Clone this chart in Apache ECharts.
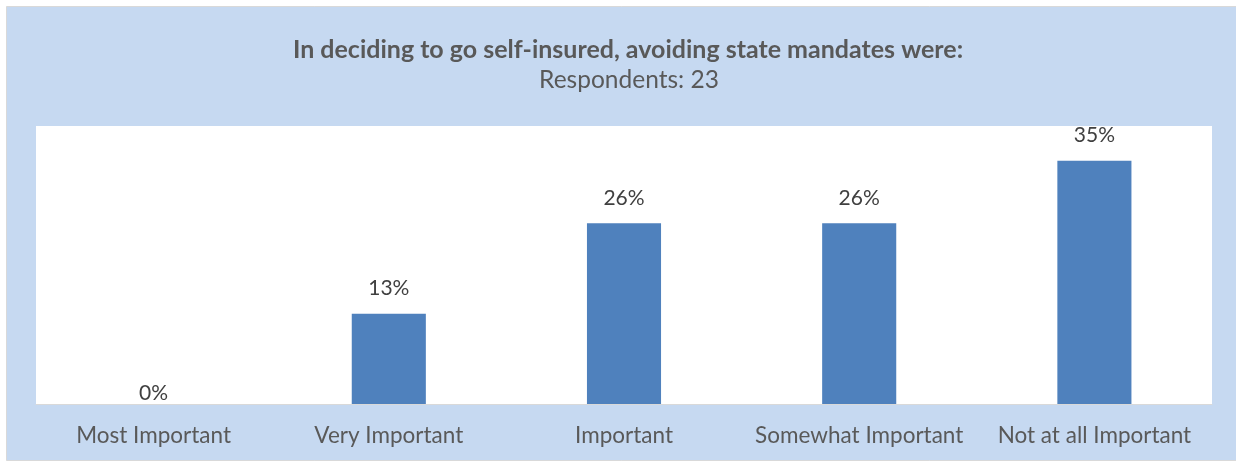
<!DOCTYPE html>
<html>
<head>
<meta charset="utf-8">
<script src="https://cdn.jsdelivr.net/npm/echarts@6/dist/echarts.min.js"></script>
<style>
  html, body { margin: 0; padding: 0; background: #ffffff; }
  #chart { width: 1236px; height: 462px; }
</style>
</head>
<body>
<div id="chart"></div>
<script>
// Survey answers: share of respondents per importance level (percent)
const categories = ['Most Important', 'Very Important', 'Important', 'Somewhat Important', 'Not at all Important'];
const shares = [0, 13, 26, 26, 35];
const titleText = 'In deciding to go self-insured, avoiding state mandates were:';
const subtitleText = 'Respondents: 23';

const FONT = 'Lato, "Noto Sans", sans-serif';
const TEXT_GREY = '#595959';

const chart = echarts.init(document.getElementById('chart'), null, { renderer: 'canvas' });

// Zero-height bars keep their label tucked just above the axis line
const barData = shares.map(v => ({
  value: v,
  label: { distance: v === 0 ? 0 : 15 }
}));

chart.setOption({
  backgroundColor: '#ffffff',
  animation: false,
  graphic: [{
    type: 'rect',
    z: -10,
    silent: true,
    shape: { x: 6.5, y: 6.5, width: 1240, height: 454 },
    style: { fill: '#c6d9f1', stroke: '#d9d9d9', lineWidth: 1 }
  }],
  title: [{
    text: titleText,
    left: 623,
    top: 32,
    textAlign: 'center',
    textStyle: { fontFamily: FONT, fontSize: 25, fontWeight: 'bold', color: TEXT_GREY }
  }, {
    text: subtitleText,
    left: 624,
    top: 63,
    textAlign: 'center',
    textStyle: { fontFamily: FONT, fontSize: 24.5, fontWeight: 'normal', color: TEXT_GREY }
  }],
  grid: {
    show: true,
    left: 36,
    right: 24,
    top: 126,
    bottom: 58,
    backgroundColor: '#ffffff',
    borderWidth: 0
  },
  xAxis: {
    type: 'category',
    data: categories,
    axisLine: { show: true, lineStyle: { color: '#d9d9d9', width: 1 } },
    axisTick: { show: false },
    axisLabel: { margin: 20, fontFamily: FONT, fontSize: 22.5, color: TEXT_GREY, interval: 0 }
  },
  yAxis: {
    type: 'value',
    min: 0,
    max: 40,
    show: false,
    splitLine: { show: false }
  },
  series: [{
    type: 'bar',
    data: barData,
    barWidth: '31.5%',
    itemStyle: { color: '#4f81bd' },
    label: {
      show: true,
      position: 'top',
      formatter: p => p.value + '%',
      fontFamily: FONT,
      fontSize: 21,
      color: '#404040'
    }
  }]
});
</script>
</body>
</html>
